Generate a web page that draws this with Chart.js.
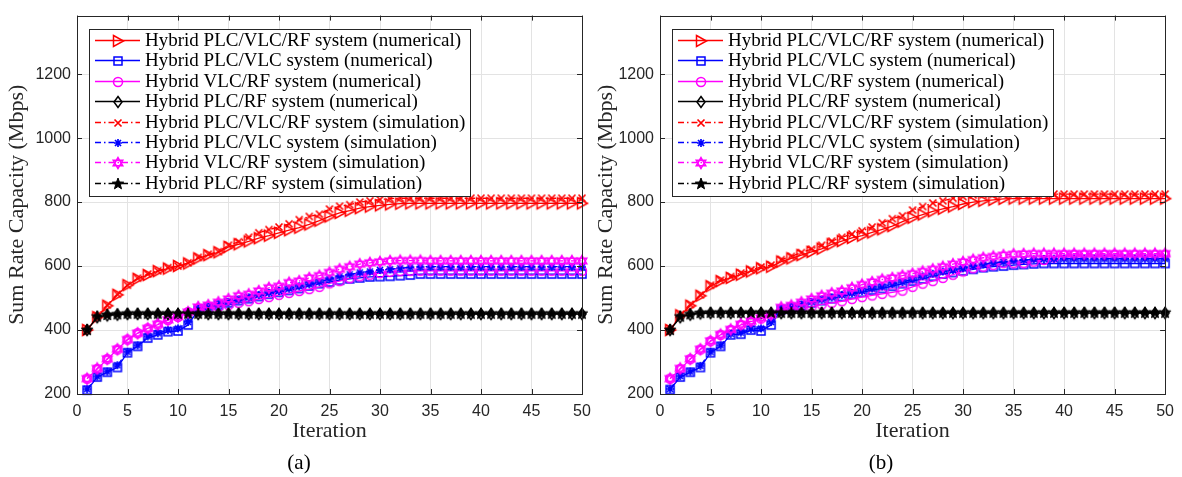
<!DOCTYPE html>
<html>
<head>
<meta charset="utf-8">
<script src="https://cdn.jsdelivr.net/npm/chart.js@4.4.1/dist/chart.umd.min.js"></script>
<style>
body{margin:0;background:#fff;width:1182px;height:477px;position:relative;overflow:hidden}
canvas{position:absolute;top:0}
#chartA{left:0}
#chartB{left:589px}
.cap{position:absolute;top:450px;font:21px 'Liberation Serif',serif;color:#000;transform:translateX(-50%)}
</style>
</head>
<body>
<canvas id="chartA" width="600" height="477"></canvas>
<canvas id="chartB" width="593" height="477"></canvas>
<div class="cap" style="left:299px">(a)</div>
<div class="cap" style="left:881px">(b)</div>
<script>

// iteration index (x axis)
const iterations = [1,2,3,4,5,6,7,8,9,10,11,12,13,14,15,16,17,18,19,20,21,22,23,24,25,26,27,28,29,30,31,32,33,34,35,36,37,38,39,40,41,42,43,44,45,46,47,48,49,50];

const seriesNames = [
"Hybrid PLC/VLC/RF system (numerical)",
"Hybrid PLC/VLC system (numerical)",
"Hybrid VLC/RF system (numerical)",
"Hybrid PLC/RF system (numerical)",
"Hybrid PLC/VLC/RF system (simulation)",
"Hybrid PLC/VLC system (simulation)",
"Hybrid VLC/RF system (simulation)",
"Hybrid PLC/RF system (simulation)"
];

const yTicks = [200,400,600,800,1000,1200];
const xTicks = [0,5,10,15,20,25,30,35,40,45,50];

// ---- panel (a) ----
const a_plcVlcRf_num = [400,440,476,510,540,560,572,584,592,600,608,624,634,643,660,668,677,687,695,704,712,720,730,742,755,766,773,781,786,790,793,795,796,796,796,796,796,796,796,796,796,796,796,796,796,796,796,796,796,796];
const a_plcVlc_num = [212,253,268,283,329,349,375,385,395,397,416,462,470,478,485,492,498,505,512,518,524,530,538,545,550,556,560,563,566,567,568,570,572,575,575,575,575,575,575,575,575,575,575,575,575,575,575,575,575,575];
const a_vlcRf_num = [248,278,309,339,370,390,405,417,431,441,456,460,465,472,478,485,490,497,503,510,516,522,528,535,546,553,562,568,573,578,582,584,585,585,585,585,585,585,585,585,585,585,585,585,585,585,585,585,585,585];
const a_plcRf_num = [400,440,446,448,450,450,450,450,450,450,450,450,450,450,450,450,450,450,450,450,450,450,450,450,450,450,450,450,450,450,450,450,450,450,450,450,450,450,450,450,450,450,450,450,450,450,450,450,450,450];
const a_plcVlcRf_sim = [400,445,478,512,540,562,575,585,595,600,610,627,637,645,665,676,690,704,714,722,732,745,755,762,778,787,792,800,804,808,811,812,812,812,812,812,812,812,812,812,812,812,812,812,812,812,812,812,812,812];
const a_plcVlc_sim = [215,255,270,290,332,352,380,390,400,405,425,466,472,480,488,495,502,510,516,522,530,537,543,550,560,568,574,580,583,588,590,593,596,598,598,598,598,598,598,598,598,598,598,598,598,598,598,598,598,598];
const a_vlcRf_sim = [248,280,310,340,370,390,405,418,432,442,456,472,478,487,497,507,512,522,532,537,548,553,563,570,580,590,598,606,610,613,616,617,617,617,616,616,616,616,616,616,616,616,616,616,616,616,616,616,616,616];
const a_plcRf_sim = [400,442,447,449,451,451,451,451,451,451,451,451,451,451,451,451,451,451,451,451,451,451,451,451,451,451,451,451,451,451,451,451,451,451,451,451,451,451,451,451,451,451,451,451,451,451,451,451,451,451];

// ---- panel (b) ----
const b_plcVlcRf_num = [400,446,476,507,537,553,563,573,583,593,598,614,624,634,644,654,668,678,688,695,705,715,725,739,751,761,771,779,786,794,800,804,807,810,811,811,811,811,811,811,811,811,811,811,811,811,811,811,811,811];
const b_plcVlc_num = [214,253,268,283,329,349,385,387,400,397,416,464,470,476,485,492,498,505,512,518,525,530,537,545,553,560,568,575,580,585,590,595,598,600,603,605,607,608,608,608,608,608,608,608,608,608,608,608,608,608];
const b_vlcRf_num = [248,278,309,339,365,385,400,416,426,436,446,461,463,468,473,480,485,490,497,503,508,513,518,523,535,545,553,563,573,583,593,598,603,609,609,609,614,619,627,634,635,635,635,635,635,635,635,635,635,635];
const b_plcRf_num = [400,440,448,452,453,453,453,453,453,453,453,453,453,453,453,453,453,453,453,453,453,453,453,453,453,453,453,453,453,453,453,453,453,453,453,453,453,453,453,453,453,453,453,453,453,453,453,453,453,453];
const b_plcVlcRf_sim = [400,448,480,510,540,556,567,578,588,597,603,620,630,642,653,665,678,690,700,710,722,735,748,757,775,786,797,804,812,817,822,823,824,825,825,825,825,825,825,825,825,825,825,825,825,825,825,825,825,825];
const b_plcVlc_sim = [216,256,270,288,332,352,388,392,403,405,425,468,474,480,488,495,502,510,515,522,530,536,543,550,558,568,576,583,588,593,600,605,610,613,617,619,621,622,623,623,623,623,623,623,623,623,623,623,623,623];
const b_vlcRf_sim = [248,280,310,340,366,386,402,418,428,438,448,471,477,487,497,507,515,522,532,542,550,558,563,570,576,583,590,598,606,613,620,626,630,634,637,638,639,639,639,639,639,639,639,639,639,639,639,639,639,639];
const b_plcRf_sim = [400,442,449,453,454,454,454,454,454,454,454,454,454,454,454,454,454,454,454,454,454,454,454,454,454,454,454,454,454,454,454,454,454,454,454,454,454,454,454,454,454,454,454,454,454,454,454,454,454,454];

const colors = ["#ff0000","#0000ff","#ff00ff","#000000","#ff0000","#0000ff","#ff00ff","#000000"];
const shapes = ["triR","square","circle","diamond","x","aster","hexa","penta"];


// marker images, drawn like matlab markers
function marker(kind,color){

const c = document.createElement("canvas");
c.width = 16;
c.height = 16;
const g = c.getContext("2d");
const m = 8;
g.strokeStyle = color;
g.fillStyle = color;
g.lineWidth = 1.5;
g.beginPath();

if(kind==="triR"){
g.moveTo(m-4.5,m-5.5);
g.lineTo(m+5.5,m);
g.lineTo(m-4.5,m+5.5);
g.closePath();
g.stroke();
}
else if(kind==="square"){
g.rect(m-4,m-4,8,8);
g.stroke();
}
else if(kind==="circle"){
g.arc(m,m,4.5,0,Math.PI*2);
g.stroke();
}
else if(kind==="diamond"){
g.moveTo(m,m-5.5);
g.lineTo(m+4,m);
g.lineTo(m,m+5.5);
g.lineTo(m-4,m);
g.closePath();
g.stroke();
}
else if(kind==="x"){
g.moveTo(m-3.5,m-3.5);
g.lineTo(m+3.5,m+3.5);
g.moveTo(m+3.5,m-3.5);
g.lineTo(m-3.5,m+3.5);
g.lineWidth = 1.7;
g.stroke();
}
else if(kind==="aster"){
g.moveTo(m-4,m);
g.lineTo(m+4,m);
g.moveTo(m,m-4);
g.lineTo(m,m+4);
g.moveTo(m-3,m-3);
g.lineTo(m+3,m+3);
g.moveTo(m+3,m-3);
g.lineTo(m-3,m+3);
g.lineWidth = 1.7;
g.stroke();
}
else if(kind==="hexa"){
const r = 5.5;
for(let t=0;t<2;t++){
for(let k=0;k<3;k++){
const ang = -Math.PI/2 + t*Math.PI + k*2*Math.PI/3;
const px = m + r*Math.cos(ang);
const py = m + r*Math.sin(ang);
if(k===0) g.moveTo(px,py); else g.lineTo(px,py);
}
g.closePath();
}
g.stroke();
}
else if(kind==="penta"){
const ro = 6, ri = 2.5;
for(let k=0;k<10;k++){
const r = k%2===0 ? ro : ri;
const ang = -Math.PI/2 + k*Math.PI/5;
const px = m + r*Math.cos(ang);
const py = m + r*Math.sin(ang);
if(k===0) g.moveTo(px,py); else g.lineTo(px,py);
}
g.closePath();
g.fill();
g.lineWidth = 1;
g.stroke();
}

return c;

}

const markers = shapes.map((s,k)=>marker(s,colors[k]));


// axes box with inward ticks, like matlab "box on"
const boxPlugin = {
id:"box",
afterDatasetsDraw(chart){
const {ctx, chartArea:a, scales} = chart;
ctx.save();
ctx.strokeStyle = "#262626";
ctx.lineWidth = 1;
ctx.strokeRect(Math.round(a.left)+0.5, Math.round(a.top)+0.5, Math.round(a.right-a.left), Math.round(a.bottom-a.top));
ctx.beginPath();
xTicks.forEach(v=>{
const x = Math.round(scales.x.getPixelForValue(v))+0.5;
ctx.moveTo(x,a.bottom); ctx.lineTo(x,a.bottom-5);
ctx.moveTo(x,a.top); ctx.lineTo(x,a.top+5);
});
yTicks.forEach(v=>{
const y = Math.round(scales.y.getPixelForValue(v))+0.5;
ctx.moveTo(a.left,y); ctx.lineTo(a.left+5,y);
ctx.moveTo(a.right,y); ctx.lineTo(a.right-5,y);
});
ctx.stroke();
ctx.restore();
}
};


// legend box drawn in the upper left of the axes
const legendPlugin = {
id:"mlegend",
afterDraw(chart){
const {ctx, chartArea:a} = chart;
const x0 = Math.round(a.left)+12;
const y0 = Math.round(a.top)+13;
const w = 381, h = 167, row = 20.4;
ctx.save();
ctx.fillStyle = "#fff";
ctx.fillRect(x0,y0,w,h);
ctx.strokeStyle = "#262626";
ctx.lineWidth = 1;
ctx.strokeRect(x0+0.5,y0+0.5,w,h);
ctx.font = "19px 'Liberation Serif', serif";
ctx.textBaseline = "middle";
chart.data.datasets.forEach((ds,k)=>{
const y = Math.round(y0 + 11 + k*row)+0.5;
ctx.strokeStyle = ds.borderColor;
ctx.lineWidth = 1.3;
ctx.setLineDash(ds.borderDash || []);
ctx.beginPath();
ctx.moveTo(x0+6,y);
ctx.lineTo(x0+51,y);
ctx.stroke();
ctx.setLineDash([]);
ctx.drawImage(markers[k], x0+21, Math.round(y-8));
ctx.fillStyle = "#000";
ctx.fillText(ds.label, x0+56, y+1);
});
ctx.restore();
}
};


function makeChart(id, seriesList, yWidth, padRight){

const datasets = seriesList.map((vals,k)=>({
label: seriesNames[k],
data: iterations.map((it,i)=>({x:it, y:vals[i]})),
borderColor: colors[k],
backgroundColor: colors[k],
borderWidth: 1.3,
borderDash: k>=4 ? [6,3,1.5,3] : [],
pointStyle: markers[k],
pointRadius: 5,
pointHoverRadius: 5,
clip: false,
order: 8-k,
tension: 0
}));

return new Chart(
document.getElementById(id),
{
type:"line",
data:{datasets:datasets},
options:{
responsive:false,
animation:false,
events:[],
layout:{padding:{left:0,right:padRight,top:5,bottom:33}},
plugins:{legend:{display:false},tooltip:{enabled:false}},
scales:{
x:{
type:"linear",
min:0,
max:50,
ticks:{stepSize:5,padding:8,color:"#262626",font:{family:"'Liberation Sans', Arial, sans-serif",size:16},callback:v=>String(v)},
grid:{color:"#e3e3e3",drawTicks:false},
border:{display:false},
title:{display:true,text:"Iteration",color:"#262626",font:{family:"'Liberation Serif', serif",size:22},padding:{top:0,bottom:0}},
afterFit(s){ s.height = 50; }
},
y:{
min:200,
max:1383,
ticks:{stepSize:200,padding:6,color:"#262626",font:{family:"'Liberation Sans', Arial, sans-serif",size:16},callback:v=>String(v)},
afterBuildTicks(s){ s.ticks = yTicks.map(v=>({value:v})); },
grid:{color:"#e3e3e3",drawTicks:false},
border:{display:false},
title:{display:true,text:"Sum Rate Capacity (Mbps)",color:"#262626",font:{family:"'Liberation Serif', serif",size:22},padding:{top:4,bottom:0}},
afterFit(s){ s.width = yWidth; }
}
}
},
plugins:[boxPlugin, legendPlugin]
});

}


makeChart("chartA",
[a_plcVlcRf_num,a_plcVlc_num,a_vlcRf_num,a_plcRf_num,a_plcVlcRf_sim,a_plcVlc_sim,a_vlcRf_sim,a_plcRf_sim],
77, 18);

makeChart("chartB",
[b_plcVlcRf_num,b_plcVlc_num,b_vlcRf_num,b_plcRf_num,b_plcVlcRf_sim,b_plcVlc_sim,b_vlcRf_sim,b_plcRf_sim],
71, 15);

</script>
</body>
</html>
